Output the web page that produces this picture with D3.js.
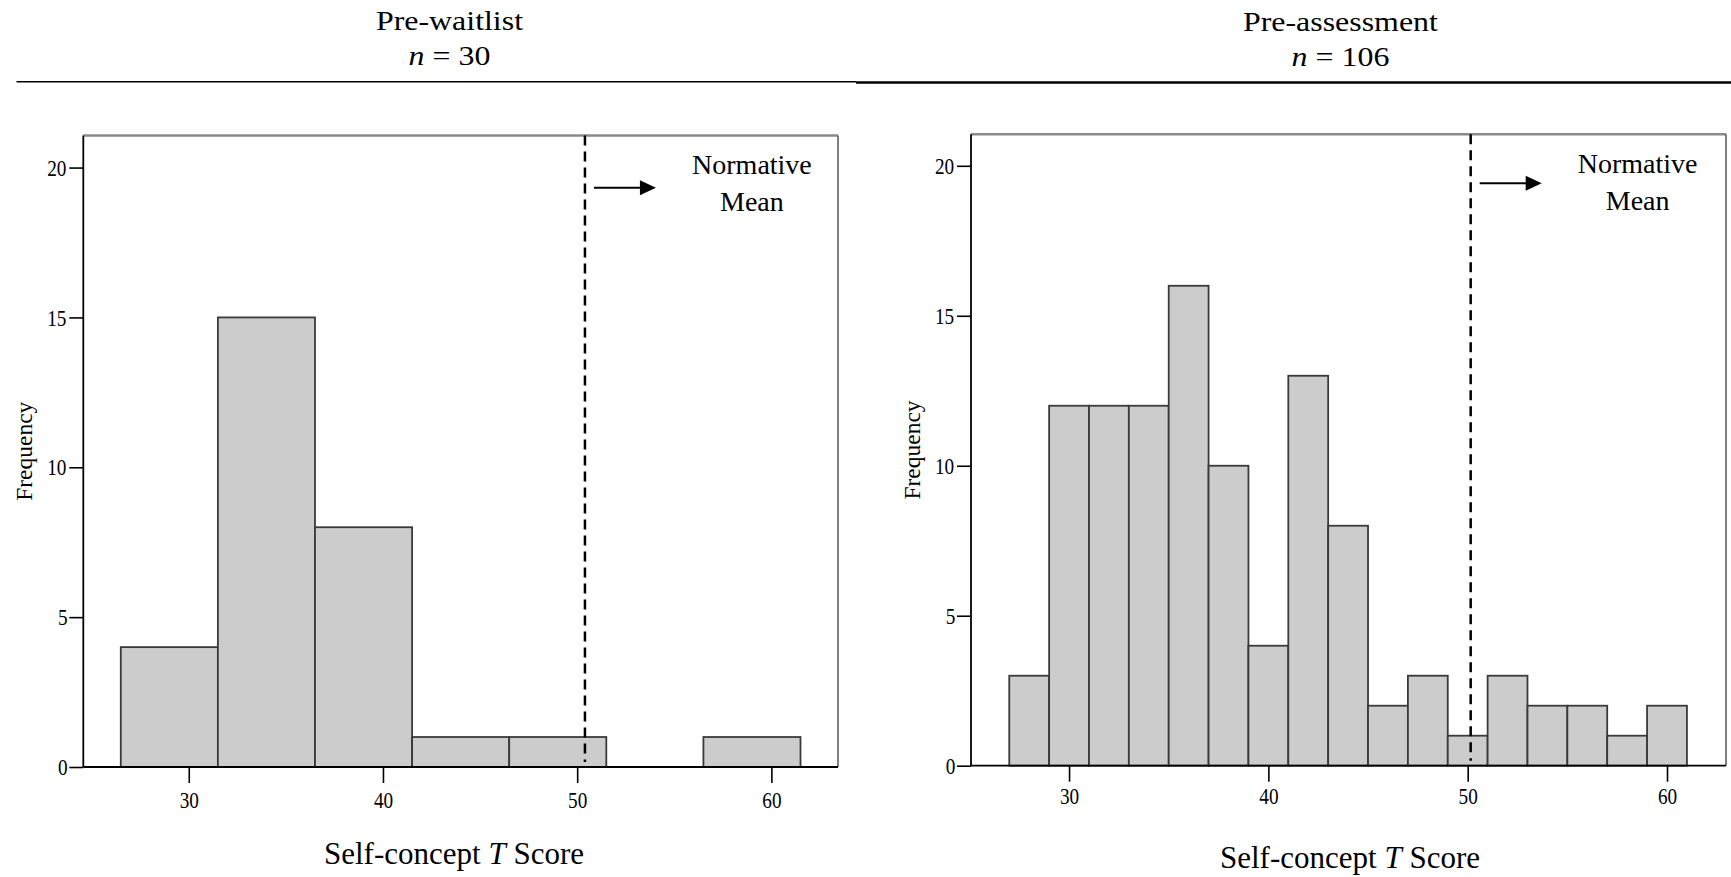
<!DOCTYPE html>
<html>
<head>
<meta charset="utf-8">
<script src="https://cdn.jsdelivr.net/npm/d3@7"></script>
<style>
body { margin: 0; background: #fff; }
text { font-family: "Liberation Serif", "Times New Roman", serif; fill: #000; }
.tick text { transform-box: fill-box; transform-origin: center; transform: scaleX(0.8); }
.wide { transform-box: fill-box; transform-origin: center; transform: scaleX(1.14); }
</style>
</head>
<body>
<svg id="chart"></svg>
<script>
let svg = d3.select('#chart')
  .attr('width', 1731)
  .attr('height', 877);

// data
const titles = ['Pre-waitlist', 'Pre-assessment'];
const sampleN = [30, 106];
const binEdgesWait = [26.5, 31.5, 36.5, 41.5, 46.5, 51.5, 56.5, 61.5];
const countsWait = [4, 15, 8, 1, 1, 0, 1];
const binEdgesAssess = [27, 29, 31, 33, 35, 37, 39, 41, 43, 45, 47, 49, 51, 53, 55, 57, 59, 61];
const countsAssess = [3, 12, 12, 12, 16, 10, 4, 13, 8, 2, 3, 1, 3, 2, 2, 1, 2];
const xTicks = [30, 40, 50, 60];
const yTicks = [0, 5, 10, 15, 20];
const normMean = [50.4, 50.15];

// layout of each panel
const panels = [
  { edges: binEdgesWait, counts: countsWait,
    left: 83.3, right: 838, top: 135.5, bottom: 767,
    xMin: 24.57, xMax: 63.43, yMax: 21.07,
    titleX: 449.5, titleY: 30, nY: 65,
    ruleX0: 16.5, ruleX1: 856, ruleY: 81.7, ruleW: 1.5,
    arrowY: 187.7, xlabX: 454, xlabY: 864, xPad: 7.5 },
  { edges: binEdgesAssess, counts: countsAssess,
    left: 971, right: 1726, top: 134.3, bottom: 765.7,
    xMin: 25.08, xMax: 62.96, yMax: 21.05,
    titleX: 1340.5, titleY: 31, nY: 66,
    ruleX0: 856, ruleX1: 1731, ruleY: 82.5, ruleW: 2.5,
    arrowY: 183.3, xlabX: 1350, xlabY: 868, xPad: 5 }
];

panels.forEach((p, k) => {
  let g = svg.append('g');

  let x = d3.scaleLinear().domain([p.xMin, p.xMax]).range([p.left, p.right]);
  let y = d3.scaleLinear().domain([0, p.yMax]).range([p.bottom, p.top]);

  // heading
  g.append('text')
    .attr('class', 'wide')
    .attr('x', p.titleX).attr('y', p.titleY)
    .attr('text-anchor', 'middle')
    .style('font-size', '28px')
    .text(titles[k]);

  let nt = g.append('text')
    .attr('class', 'wide')
    .attr('x', p.titleX).attr('y', p.nY)
    .attr('text-anchor', 'middle')
    .style('font-size', '28px');
  nt.append('tspan').style('font-style', 'italic').text('n');
  nt.append('tspan').text(' = ' + sampleN[k]);

  g.append('line')
    .attr('x1', p.ruleX0).attr('x2', p.ruleX1)
    .attr('y1', p.ruleY).attr('y2', p.ruleY)
    .attr('stroke', '#000').attr('stroke-width', p.ruleW);

  // bars
  let bins = p.counts.map((c, i) => ({ x0: p.edges[i], x1: p.edges[i + 1], c: c }))
    .filter(d => d.c > 0);

  g.selectAll('rect.bar')
    .data(bins)
    .join('rect')
    .attr('class', 'bar')
    .attr('x', d => x(d.x0))
    .attr('y', d => y(d.c))
    .attr('width', d => x(d.x1) - x(d.x0))
    .attr('height', d => y(0) - y(d.c))
    .attr('fill', '#cccccc')
    .attr('stroke', '#3a3a3a')
    .attr('stroke-width', 1.8);

  // frame
  g.append('line')
    .attr('x1', p.left).attr('x2', p.right)
    .attr('y1', p.top).attr('y2', p.top)
    .attr('stroke', '#8a8a8a').attr('stroke-width', 2.5);
  g.append('line')
    .attr('x1', p.right).attr('x2', p.right)
    .attr('y1', p.top).attr('y2', p.bottom)
    .attr('stroke', '#555').attr('stroke-width', 1.5);

  // axes
  let xAxis = g.append('g')
    .attr('transform', `translate(0,${p.bottom})`)
    .call(d3.axisBottom(x).tickValues(xTicks).tickSize(16).tickPadding(p.xPad));
  let yAxis = g.append('g')
    .attr('transform', `translate(${p.left},0)`)
    .call(d3.axisLeft(y).tickValues(yTicks).tickSize(14).tickPadding(0.5));

  [xAxis, yAxis].forEach(a => {
    a.select('.domain').attr('stroke', '#000').attr('stroke-width', 1.8);
    a.selectAll('.tick line').attr('stroke', '#000').attr('stroke-width', 1.6);
    a.selectAll('.tick text')
      .style('font-family', '"Liberation Serif", "Times New Roman", serif')
      .style('font-size', '24px');
  });
  xAxis.select('.domain').attr('d', `M${p.left},0H${p.right}`);
  yAxis.select('.domain').attr('d', `M0,${p.top}V${p.bottom}`);

  // axis titles
  let xl = g.append('text')
    .attr('x', p.xlabX).attr('y', p.xlabY)
    .attr('text-anchor', 'middle')
    .style('font-size', '31px');
  xl.append('tspan').text('Self-concept ');
  xl.append('tspan').style('font-style', 'italic').text('T');
  xl.append('tspan').text(' Score');

  g.append('text')
    .attr('transform', `translate(${p.left - 51.5},${(p.top + p.bottom) / 2}) rotate(-90)`)
    .attr('text-anchor', 'middle')
    .style('font-size', '23.5px')
    .text('Frequency');

  // normative mean marker
  let mx = x(normMean[k]);
  g.append('line')
    .attr('x1', mx).attr('x2', mx)
    .attr('y1', p.top).attr('y2', p.bottom - 5)
    .attr('stroke', '#000').attr('stroke-width', 2.5)
    .attr('stroke-dasharray', '10,6');

  g.append('line')
    .attr('x1', mx + 9).attr('x2', mx + 57)
    .attr('y1', p.arrowY).attr('y2', p.arrowY)
    .attr('stroke', '#000').attr('stroke-width', 2);
  g.append('path')
    .attr('d', `M${mx + 55},${p.arrowY - 7.5}L${mx + 71},${p.arrowY}L${mx + 55},${p.arrowY + 7.5}Z`)
    .attr('fill', '#000');

  g.append('text')
    .attr('x', mx + 167).attr('y', p.top + 38.5)
    .attr('text-anchor', 'middle')
    .style('font-size', '28px')
    .text('Normative');
  g.append('text')
    .attr('x', mx + 167).attr('y', p.top + 75.5)
    .attr('text-anchor', 'middle')
    .style('font-size', '28px')
    .text('Mean');
});
</script>
</body>
</html>
